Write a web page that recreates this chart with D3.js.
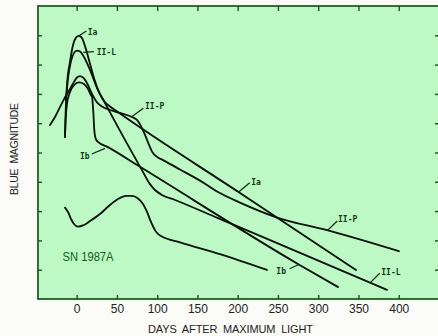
<!DOCTYPE html>
<html>
<head>
<meta charset="utf-8">
<script src="https://cdn.jsdelivr.net/npm/d3@7"></script>
<style>
  html, body { margin: 0; padding: 0; background: #fbfbf7; }
  svg { display: block; }
</style>
</head>
<body>
<svg id="chart" width="438" height="336"></svg>
<script>
// ---- Data (days after maximum, relative blue magnitude; larger = fainter) ----
const xTicks = [0, 50, 100, 150, 200, 250, 300, 350, 400];
const xTickLabels = ["0", "50", "100", "150", "200", "250", "300", "350", "400"];
const yTicks = [1, 2, 3, 4, 5, 6, 7, 8, 9];

const curveIa = [[-14.5,4.47],[-13.8,3.72],[-12,2.7],[-8.3,1.91],[-4.5,1.33],[-0.8,1.08],[2.9,1.02],[6.6,1.09],[10.4,1.37],[15.3,1.84],[21.5,2.46],[27.8,2.94],[34,3.24],[41.5,3.43],[53.8,3.67],[201,6.35],[347,9.01]];
const curveIIL = [[-13.2,3.21],[-10.7,2.46],[-7,1.88],[-3.3,1.6],[0.4,1.52],[4.2,1.55],[9.1,1.74],[16.6,2.18],[25.3,2.8],[35.2,3.31],[45.1,3.82],[81.1,5.6],[91.1,6.08],[97.3,6.28],[106,6.45],[122.2,6.62],[175.5,7.24],[364.3,9.44],[385.4,9.69]];
const curveIIP = [[-33.1,4.06],[-26.9,3.79],[-20.7,3.45],[-14.5,3.12],[-8.3,2.83],[-3.3,2.59],[0.4,2.44],[4.2,2.39],[9.1,2.47],[14.1,2.7],[19.1,3.0],[25.3,3.29],[31.5,3.43],[41.4,3.55],[53.8,3.65],[68.7,3.79],[74.9,3.89],[79.9,4.1],[84.9,4.4],[89.9,4.74],[94.8,5.02],[99.8,5.15],[107.3,5.26],[128.4,5.58],[153.2,5.96],[175.5,6.35],[202.8,6.71],[248.8,7.22],[312.1,7.66],[400.3,8.37]];
const curveIb = [[-14.5,4.47],[-13.8,3.96],[-12,3.34],[-8.3,2.94],[-3.3,2.7],[2.9,2.61],[9.1,2.66],[14.1,2.83],[17.8,3.05],[19.1,3.1],[20.7,3.62],[21.9,4.23],[23.4,4.51],[26.5,4.64],[37.7,4.8],[78.7,5.49],[275.8,8.82],[324.6,9.59]];
const curve1987A = [[-14.5,6.88],[-10.7,7.03],[-7,7.27],[-3.3,7.44],[1.7,7.53],[7.9,7.49],[16.6,7.34],[29,7.1],[41.4,6.79],[51.4,6.59],[61.3,6.48],[68.7,6.48],[76.2,6.57],[82.4,6.76],[87.4,7.03],[92.3,7.37],[97.3,7.65],[101,7.78],[106,7.87],[128.4,8.07],[178,8.47],[236.4,9.01]];

const seriesList = [curveIa, curveIIL, curveIIP, curveIb, curve1987A];

// annotation labels: text, text anchor point (day, mag), leader from -> to (day, mag)
const labelTexts = ["Ia", "II-L", "II-P", "Ib", "Ia", "II-P", "Ib", "II-L"];
const labelAt = [[13.7,0.905],[24.9,1.59],[84.9,3.43],[4.2,5.14],[216.9,6.02],[324.6,7.29],[248,9.04],[378.3,9.08]];
const leaderFrom = [[3.5,1.01],[8.3,1.58],[68.4,3.78],[18.7,5.05],[201.2,6.35],[311.3,7.66],[264.6,8.97],[364.7,9.44]];
const leaderTo = [[12.2,0.85],[21.5,1.56],[82.8,3.49],[35.2,4.86],[214.9,6.03],[323.7,7.34],[275.8,8.82],[376.4,9.12]];

const titleName = "SN 1987A";
const titleAt = [-17.5, 8.56];
const xTitle = "DAYS  AFTER  MAXIMUM  LIGHT";
const yTitle = "BLUE  MAGNITUDE";

// ---- Layout ----
const W = 438, H = 336;
const plot = { left: 38, right: 439, top: 6, bottom: 299 };
const frameColor = "#15561a";

const svg = d3.select("#chart");

const x = d3.scaleLinear().domain([-48, 450]).range([plot.left, plot.right]);
const y = d3.scaleLinear().domain([0, 10]).range([plot.top, plot.bottom]);

svg.append("rect")
  .attr("x", plot.left).attr("y", plot.top)
  .attr("width", plot.right - plot.left).attr("height", plot.bottom - plot.top)
  .attr("fill", "#bdf9c5");

// axes (ticks inside the frame)
const axB = svg.append("g").attr("transform", `translate(0,${plot.bottom})`)
  .call(d3.axisBottom(x).tickValues(xTicks).tickSizeInner(-4).tickSizeOuter(0).tickPadding(5)
        .tickFormat((d, i) => xTickLabels[i]));
const axT = svg.append("g").attr("transform", `translate(0,${plot.top})`)
  .call(d3.axisTop(x).tickValues(xTicks).tickSizeInner(-5).tickSizeOuter(0).tickFormat(""));
const axL = svg.append("g").attr("transform", `translate(${plot.left},0)`)
  .call(d3.axisLeft(y).tickValues(yTicks).tickSizeInner(-4).tickSizeOuter(0).tickFormat(""));
const axR = svg.append("g").attr("transform", `translate(${plot.right},0)`)
  .call(d3.axisRight(y).tickValues(yTicks).tickSizeInner(-4).tickSizeOuter(0).tickFormat(""));

[axB, axT, axL, axR].forEach(g => {
  g.select(".domain").remove();
  g.selectAll(".tick line").attr("stroke", frameColor).attr("stroke-width", 1.4);
});
axB.selectAll(".tick text")
  .attr("font-family", "'Liberation Sans', Arial, sans-serif")
  .attr("font-size", 12).attr("fill", "#222");

// frame
svg.append("rect")
  .attr("x", plot.left).attr("y", plot.top)
  .attr("width", plot.right - plot.left).attr("height", plot.bottom - plot.top)
  .attr("fill", "none").attr("stroke", frameColor).attr("stroke-width", 1.7);

// curves
const line = d3.line().x(d => x(d[0])).y(d => y(d[1])).curve(d3.curveMonotoneX);
svg.append("g").selectAll("path").data(seriesList).join("path")
  .attr("d", line)
  .attr("fill", "none").attr("stroke", "#061006").attr("stroke-width", 1.8)
  .attr("stroke-linejoin", "round").attr("stroke-linecap", "round");

// leaders
svg.append("g").selectAll("line").data(labelTexts).join("line")
  .attr("x1", (d, i) => x(leaderFrom[i][0])).attr("y1", (d, i) => y(leaderFrom[i][1]))
  .attr("x2", (d, i) => x(leaderTo[i][0])).attr("y2", (d, i) => y(leaderTo[i][1]))
  .attr("stroke", "#0f2a10").attr("stroke-width", 1.2);

// labels
svg.append("g").selectAll("text").data(labelTexts).join("text")
  .attr("x", (d, i) => x(labelAt[i][0])).attr("y", (d, i) => y(labelAt[i][1]))
  .attr("dy", "0.36em")
  .attr("font-family", "'DejaVu Sans Mono', monospace")
  .attr("font-weight", "bold").attr("font-size", 8)
  .attr("fill", "#103a12")
  .text(d => d);

svg.append("text")
  .attr("x", x(titleAt[0])).attr("y", y(titleAt[1]))
  .attr("dy", "0.36em")
  .attr("font-family", "'Liberation Sans', Arial, sans-serif")
  .attr("font-size", 12).attr("fill", "#0e5e16")
  .attr("textLength", 51).attr("lengthAdjust", "spacingAndGlyphs")
  .text(titleName);

// axis titles
svg.append("text")
  .attr("x", 230.5).attr("y", 333)
  .attr("text-anchor", "middle")
  .attr("font-family", "'Liberation Sans', Arial, sans-serif")
  .attr("font-size", 11).attr("fill", "#222")
  .style("white-space", "pre")
  .attr("textLength", 165).attr("lengthAdjust", "spacing")
  .text(xTitle);

svg.append("text")
  .attr("transform", "translate(17.5,149) rotate(-90)")
  .attr("text-anchor", "middle")
  .attr("font-family", "'Liberation Sans', Arial, sans-serif")
  .attr("font-size", 10.5).attr("fill", "#222")
  .style("white-space", "pre")
  .attr("textLength", 92).attr("lengthAdjust", "spacing")
  .text(yTitle);
</script>
</body>
</html>
